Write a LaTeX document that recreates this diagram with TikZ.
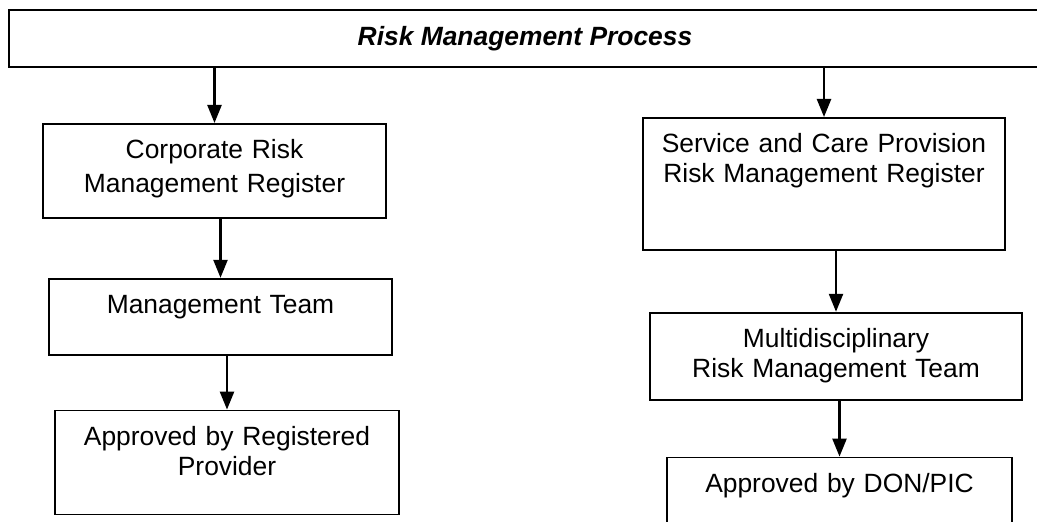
\documentclass[tikz,border=0pt]{standalone}
\usepackage{fontspec}
\setmainfont{Liberation Sans}
\usetikzlibrary{positioning,arrows.meta}
\tikzset{
    box/.style 2 args={draw, line width=0.9pt, inner xsep=0pt, inner ysep=7.5pt,
        text height=10pt, text width=#1, text depth=#2, align=center},
    flow/.style={->, line width=1.2pt}
}

\begin{document}
\begin{tikzpicture}[>={Triangle[length=9pt, width=7pt]},
        font=\fontsize{13.2}{15}\selectfont]
        \useasboundingbox (0,0) rectangle (518.5pt,-261pt);
        \clip (0,0) rectangle (518.5pt,-261pt);

        \node[draw, line width=1.1pt, minimum width=516pt, minimum height=28.5pt,
            font=\fontsize{13.2}{15}\selectfont\bfseries\itshape] (rmp)
            at (262.5pt,-19.25pt) {Risk Management Process};

        % corporate side
        \node[box={171.5pt}{22pt}, anchor=north] (crr) at (107.25pt,-61.5pt)
            {Corporate Risk\\[2pt] Management Register};

        \node[box={171.5pt}{13pt}, below=29.5pt of crr, xshift=3pt] (mt)
            {Management Team};

        \node[box={172pt}{27pt}, below=27pt of mt, xshift=3.25pt] (arp)
            {Approved by Registered\\ Provider};

        % service and care side
        \node[box={181pt}{41pt}, anchor=north] (scp) at (412pt,-58.5pt)
            {Service and Care Provision\\ Risk Management Register};

        \node[box={186pt}{18.5pt}, below=30.5pt of scp, xshift=6pt] (mdt)
            {Multidisciplinary\\ Risk Management Team};

        \node[box={172.5pt}{30pt}, below=28pt of mdt, xshift=1.75pt] (don)
            {Approved by DON/PIC};

        \draw[flow] (rmp.south -| crr.north) -- (crr.north);
        \draw[flow] (crr.south -| mt.north) -- (mt.north);
        \draw[flow] (mt.south -| arp.north) -- (arp.north);
        \draw[flow] (rmp.south -| scp.north) -- (scp.north);
        \draw[flow] (scp.south -| mdt.north) -- (mdt.north);
        \draw[flow] (mdt.south -| don.north) -- (don.north);

    \end{tikzpicture}
\end{document}
